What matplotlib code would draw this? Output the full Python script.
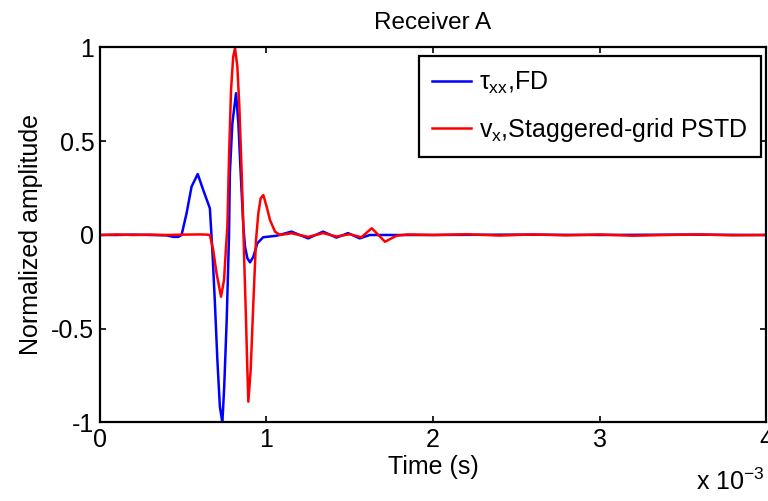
import numpy as np
import matplotlib
matplotlib.use('Agg')
import matplotlib.pyplot as plt

plt.rcParams['font.family'] = ['Liberation Sans', 'DejaVu Sans']
plt.rcParams['mathtext.fontset'] = 'custom'
plt.rcParams['mathtext.rm'] = 'Liberation Sans'
plt.rcParams['mathtext.it'] = 'Liberation Sans'
plt.rcParams['axes.unicode_minus'] = False

# time in ms (axis shows x 10^-3 s)
t_fd = [0, 0.1, 0.2, 0.3, 0.4, 0.44, 0.47, 0.49, 0.52, 0.55, 0.587, 0.62, 0.66,
        0.676, 0.69, 0.705, 0.72, 0.735, 0.746, 0.761, 0.775, 0.78, 0.795, 0.817,
        0.831, 0.845, 0.861, 0.871, 0.885, 0.901, 0.921, 0.945, 0.98, 1.06, 1.15,
        1.25, 1.34, 1.42, 1.49, 1.56, 1.62, 1.8, 2.0, 2.5, 3.0, 3.5, 4.0]
a_fd = [0, 0, 0.002, 0, -0.002, -0.01, -0.01, 0, 0.116, 0.258, 0.325, 0.24, 0.142,
        -0.1, -0.36, -0.667, -0.916, -1.0, -0.81, -0.453, 0, 0.33, 0.596, 0.756,
        0.596, 0.33, 0.044, -0.062, -0.124, -0.146, -0.116, -0.044, -0.012, -0.004, 0.018,
        -0.018, 0.018, -0.014, 0.01, -0.018, 0, 0, 0, 0.002, 0, 0.002, 0]

t_ps = [0, 0.1, 0.2, 0.3, 0.4, 0.5, 0.6, 0.64, 0.66, 0.68, 0.70, 0.727, 0.745, 0.757,
        0.765, 0.775, 0.787, 0.80, 0.811, 0.825, 0.837, 0.851, 0.861, 0.865, 0.877,
        0.885, 0.891, 0.905, 0.921, 0.937, 0.951, 0.965, 0.981, 1.001, 1.021, 1.051,
        1.081, 1.15, 1.25, 1.34, 1.42, 1.5, 1.57, 1.632, 1.712, 1.78, 1.85, 2.0,
        2.2, 2.4, 2.6, 2.8, 3.0, 3.2, 3.4, 3.6, 3.8, 4.0]
a_ps = [0, 0.003, 0, 0.002, 0, 0.002, 0.003, 0.002, 0, -0.08, -0.204, -0.329, -0.24, -0.062,
        0.044, 0.418, 0.773, 0.951, 0.996, 0.898, 0.684, 0.33, 0.044, -0.098, -0.453,
        -0.72, -0.889, -0.72, -0.364, -0.027, 0.116, 0.196, 0.213, 0.151, 0.08, 0.018,
        0, 0.009, -0.01, 0.01, -0.008, 0.004, -0.012, 0.036, -0.036, -0.004, 0.003, 0,
        0.004, -0.003, 0.003, -0.002, 0.003, -0.004, 0, 0.003, -0.002, 0]

fs = 18
fig = plt.figure(figsize=(7.68, 5.01), dpi=100)
ax = fig.add_axes([0.1302, 0.1567, 0.8672, 0.7485])

ax.plot(t_fd, a_fd, color='#0000ff', lw=1.8, label=r'$\tau_{xx}$,FD')
ax.plot(t_ps, a_ps, color='#ff0000', lw=1.8, label=r'$v_x$,Staggered-grid PSTD')

ax.set_xlim(0, 4)
ax.set_ylim(-1, 1)
ax.set_xticks([0, 1, 2, 3, 4])
ax.set_yticks([-1, -0.5, 0, 0.5, 1])
ax.set_yticklabels(['-1', '-0.5', '0', '0.5', '1'])
ax.tick_params(direction='in', length=4.5, width=1.2, top=True, right=True,
               labelsize=fs, pad=4)
for s in ax.spines.values():
    s.set_linewidth(1.6)

ax.set_title('Receiver A', fontsize=17.5, pad=13)
ax.set_xlabel('Time (s)', fontsize=fs, labelpad=2)
ax.set_ylabel('Normalized amplitude', fontsize=fs, labelpad=6)
fig.text(0.906, 0.012, r'x 10$^{-3}$', fontsize=fs, ha='left', va='bottom')

leg = ax.legend(loc='upper right', bbox_to_anchor=(0.9925, 0.978), borderaxespad=0,
                fontsize=fs, fancybox=False, framealpha=1, edgecolor='k',
                handlelength=1.55, handletextpad=0.3, labelspacing=0.8,
                borderpad=0.55)
leg.get_frame().set_linewidth(1.6)

plt.savefig('out.png', dpi=100)
